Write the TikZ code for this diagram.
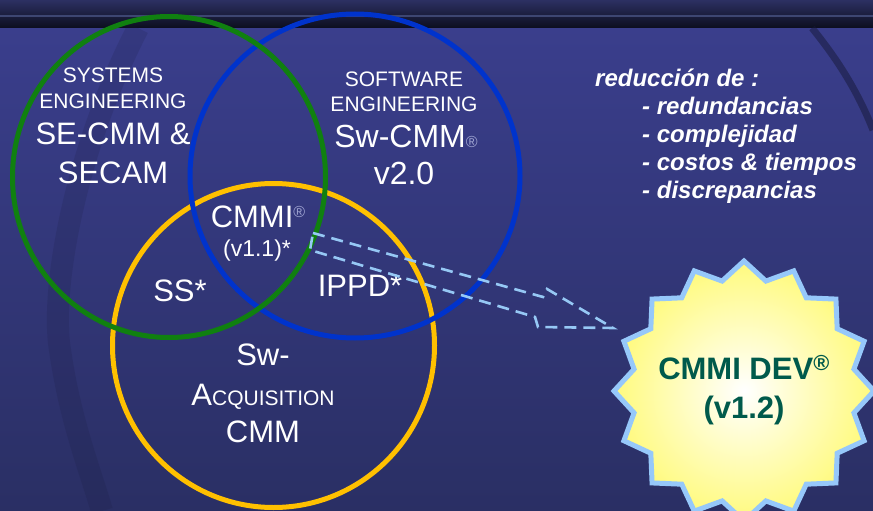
\documentclass[tikz,border=0pt]{standalone}
\usepackage{fontspec}
\setmainfont{Liberation Sans}
\usepackage{tikz}
\usetikzlibrary{shapes.geometric}

\definecolor{bgtop}{RGB}{58,62,140}
\definecolor{bgmid}{RGB}{45,50,108}
\definecolor{bgbot}{RGB}{42,47,100}
\definecolor{bandtop}{RGB}{44,48,98}
\definecolor{banddark}{RGB}{12,14,30}
\definecolor{bandline}{RGB}{85,98,150}
\definecolor{shadowblue}{RGB}{22,24,55}
\definecolor{segreen}{RGB}{16,128,16}
\definecolor{swblue}{RGB}{0,51,204}
\definecolor{acqyellow}{RGB}{255,192,0}
\definecolor{calloutblue}{RGB}{150,200,245}
\definecolor{starfill}{RGB}{255,250,125}
\definecolor{starline}{RGB}{150,200,250}
\definecolor{devgreen}{RGB}{0,90,75}
\definecolor{regmark}{RGB}{160,165,210}

\newcommand{\pxfont}[1]{\fontsize{#1}{#1}\selectfont}

\begin{document}
\begin{tikzpicture}[x=1pt, y=-1pt,
    lbl/.style   = {text=white, inner sep=0pt, anchor=base},
    small/.style = {lbl, font=\pxfont{21}},
    big/.style   = {lbl, font=\pxfont{31}},
    ring/.style  = {line width=5pt},
    goal/.style  = {lbl, anchor=base west, font=\pxfont{24}\bfseries\itshape},
    callout/.style = {calloutblue, line width=2.6pt, dash pattern=on 12pt off 7pt},
    burst/.style = {star, star points=16, star point ratio=1.16, minimum size=260pt,
                    inner sep=0pt, draw=starline, line width=5pt,
                    inner color=white, outer color=starfill},
    devtext/.style = {inner sep=0pt, text=devgreen, align=center,
                      font=\fontsize{31}{39}\selectfont\bfseries}]

    \useasboundingbox (0,0) rectangle (873,511);

    % background
    \shade[top color=bgtop, middle color=bgmid, bottom color=bgbot] (0,28) rectangle (873,511);
    \shade[top color=bandtop, bottom color=banddark] (0,0) rectangle (873,28);
    \draw[bandline, line width=1.5pt, opacity=.6] (0,16) -- (873,16);
    \draw[shadowblue, line width=22pt, opacity=.15]
        (138,28) .. controls (75,150) and (50,290) .. (60,350) .. controls (70,420) and (90,470) .. (102,511);
    \draw[shadowblue, line width=7pt, opacity=.5] (812,28) .. controls (838,60) and (858,92) .. (873,130);

    % circles
    \draw[ring, acqyellow] (273.5,345.5) ellipse [x radius=161, y radius=162];
    \draw[ring, swblue]    (355,176)     ellipse [x radius=165, y radius=162];
    \draw[ring, segreen]   (169,177)     ellipse [x radius=156.5, y radius=160.5];

    % systems engineering
    \node[small] at (113,83)  (sysLbl) {SYSTEMS};
    \node[small] at (113,108) (sysEng) {ENGINEERING};
    \node[big]   at (113,144) (seCmm)  {SE-CMM \&};
    \node[big]   at (113,183) (secam)  {SECAM};

    % software engineering
    \node[small] at (404,86)  (swLbl) {SOFTWARE};
    \node[small] at (404,111) (swEng) {ENGINEERING};
    \node[big, font=\pxfont{32}] at (406,147) (swCmm)
        {Sw-CMM{\pxfont{16}\color{regmark}®}};
    \node[big, font=\pxfont{32}] at (404,184) (swVer) {v2.0};

    % intersections
    \node[big] at (258,227) (cmmi)
        {CMMI\raisebox{10pt}{\pxfont{16}\color{regmark}®}};
    \node[lbl, font=\pxfont{23}] at (257,256) (cmmiVer) {(v1.1)*};
    \node[big] at (180,301) (ss)   {SS*};
    \node[big] at (360,296) (ippd) {IPPD*};

    % acquisition
    \node[big] at (263,365) (acqSw)  {Sw-};
    \node[big] at (263,405) (acqMid) {A{\pxfont{21}CQUISITION}};
    \node[big] at (263,442) (acqCmm) {CMM};

    % list
    \node[goal] at (595,87) (redTitle) {reducción de :};
    \foreach \item [count=\i] in {redundancias, complejidad, costos \& tiempos, discrepancias}
        \node[goal] at (642,86+28*\i) (red\i) {- \item};

    % CMMI DEV
    \node[burst] at (744,391) (dev) {};
    \node[devtext] at (744,390) (devTxt) {CMMI DEV\textsuperscript{®}\\(v1.2)};

    % dashed block arrow
    \coordinate (tailTop) at (313,233);
    \coordinate (headTop) at (543,297);
    \coordinate (barbTop) at (547,289);
    \coordinate (tip)     at (613,328);
    \coordinate (barbBot) at (538,327);
    \coordinate (headBot) at (535,317);
    \coordinate (tailBot) at (310,250);
    \draw[callout] (tailTop) -- (headTop) -- (barbTop) -- (tip) -- (barbBot) -- (headBot) -- (tailBot) -- cycle;
\end{tikzpicture}
\end{document}
